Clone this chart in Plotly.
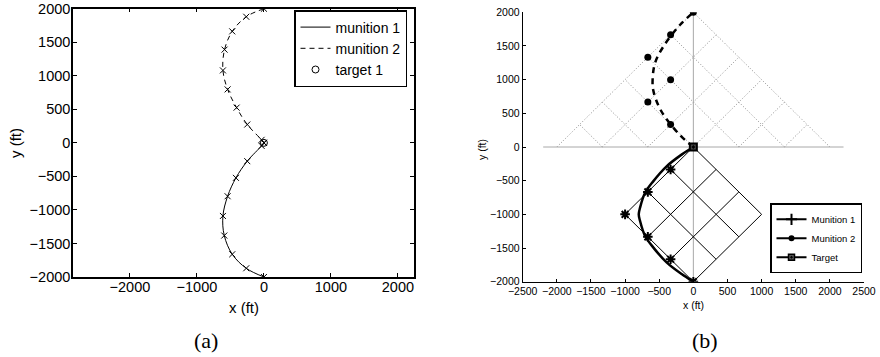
import plotly.graph_objects as go

# ---------------- panel (a) data ----------------
a_m1_x = [0, -264, -473, -592, -612, -542, -418, -249, -35, 0]
a_m1_y = [-2000, -1870, -1661, -1382, -1090, -796, -522, -273, -45, 0]
a_m2_x = [0, -264, -473, -588, -612, -542, -408, -249, -35, 0]
a_m2_y = [2000, 1880, 1662, 1390, 1080, 797, 525, 273, 45, 0]
a_target_x = [0]
a_target_y = [0]

# ---------------- panel (b) data ----------------
b_m1_path_x = [0, -172, -392, -588, -709, -782, -800, -782, -709, -588, -392, -172, 0]
b_m1_path_y = [0, -113, -287, -510, -683, -906, -1000, -1094, -1317, -1490, -1713, -1887, -2000]
b_m2_path_x = [0, -197, -417, -515, -588, -597, -563, -441, -197, 0]
b_m2_path_y = [0, 177, 449, 622, 845, 994, 1242, 1489, 1811, 2000]
b_m1_wp_x = [-333.3, -666.7, -1000, -666.7, -333.3, 0]
b_m1_wp_y = [-333.3, -666.7, -1000, -1333.3, -1666.7, -2000]
b_m2_wp_x = [-333.3, -666.7, -333.3, -666.7, -333.3, 0]
b_m2_wp_y = [333.3, 666.7, 1000, 1333.3, 1666.7, 2000]
b_target_x = [0]
b_target_y = [0]
upper_apex = 2000
upper_offsets = [2000, 1333.3, 666.7, 0, -666.7, -1333.3]
lower_offsets = [0, -666.7, -1333.3, -2000]
ref_h_x = [-2200, 2200]
ref_h_y = [0, 0]
ref_v_x = [0, 0]
ref_v_y = [-2000, 2000]

FONT = "Liberation Sans, Arial, Helvetica, sans-serif"
SERIF = "Liberation Serif, DejaVu Serif, serif"

fig = go.Figure()

# ---- panel (a) traces ----
fig.add_trace(go.Scatter(x=a_m1_x, y=a_m1_y, mode="lines", line=dict(color="black", width=1, shape="spline"),
                         name="munition 1", xaxis="x", yaxis="y", legend="legend"))
fig.add_trace(go.Scatter(x=a_m2_x, y=a_m2_y, mode="lines", line=dict(color="black", width=1, shape="spline", dash="5px,4px"),
                         name="munition 2", xaxis="x", yaxis="y", legend="legend"))
fig.add_trace(go.Scatter(x=a_target_x, y=a_target_y, mode="markers",
                         marker=dict(symbol="circle-open", size=7, color="black", line=dict(width=1)),
                         name="target 1", xaxis="x", yaxis="y", legend="legend"))
fig.add_trace(go.Scatter(x=a_m1_x + a_m2_x, y=a_m1_y + a_m2_y, mode="markers",
                         marker=dict(symbol="x-thin-open", size=6, color="black", line=dict(width=1, color="black")),
                         showlegend=False, xaxis="x", yaxis="y"))

# ---- panel (b) lattice ----
ux, uy = [], []
for c in upper_offsets:
    ux += [-c, (upper_apex - c) / 2, None]
    uy += [0, (upper_apex + c) / 2, None]
    ux += [c, -(upper_apex - c) / 2, None]
    uy += [0, (upper_apex + c) / 2, None]
fig.add_trace(go.Scatter(x=ux, y=uy, mode="lines", line=dict(color="#8c8c8c", width=1, dash="1px,2px"),
                         showlegend=False, xaxis="x2", yaxis="y2", hoverinfo="skip"))
fig.add_trace(go.Scatter(x=ref_h_x + [None] + ref_v_x, y=ref_h_y + [None] + ref_v_y, mode="lines",
                         line=dict(color="#a8a8a8", width=1), showlegend=False, xaxis="x2", yaxis="y2", hoverinfo="skip"))
lx, ly = [], []
span = abs(lower_offsets[-1])
for c in lower_offsets:
    lx += [c / 2, (c + span) / 2, None]
    ly += [c / 2, (c - span) / 2, None]
    lx += [-c / 2, (-span - c) / 2, None]
    ly += [c / 2, (c - span) / 2, None]
fig.add_trace(go.Scatter(x=lx, y=ly, mode="lines", line=dict(color="black", width=1),
                         showlegend=False, xaxis="x2", yaxis="y2", hoverinfo="skip"))

# ---- panel (b) trajectories ----
fig.add_trace(go.Scatter(x=b_m1_path_x, y=b_m1_path_y, mode="lines", line=dict(color="black", width=2.5, shape="spline"),
                         showlegend=False, xaxis="x2", yaxis="y2"))
fig.add_trace(go.Scatter(x=b_m2_path_x, y=b_m2_path_y, mode="lines",
                         line=dict(color="black", width=2.5, shape="spline", dash="6px,5px"),
                         showlegend=False, xaxis="x2", yaxis="y2"))
fig.add_trace(go.Scatter(x=b_m1_wp_x, y=b_m1_wp_y, mode="markers",
                         marker=dict(symbol="asterisk-open", size=8, color="black", line=dict(width=2, color="black")),
                         showlegend=False, xaxis="x2", yaxis="y2"))
fig.add_trace(go.Scatter(x=b_m2_wp_x, y=b_m2_wp_y, mode="markers",
                         marker=dict(symbol="circle", size=7, color="black"),
                         showlegend=False, xaxis="x2", yaxis="y2"))
fig.add_trace(go.Scatter(x=b_target_x, y=b_target_y, mode="markers",
                         marker=dict(symbol="square-dot", size=7, color="#444", line=dict(width=2, color="black")),
                         showlegend=False, xaxis="x2", yaxis="y2"))

# ---- panel (b) legend entries ----
fig.add_trace(go.Scatter(x=[None], y=[None], mode="lines+markers", name="Munition 1",
                         line=dict(color="black", width=2),
                         marker=dict(symbol="cross-thin-open", size=8, color="black", line=dict(width=2, color="black")),
                         xaxis="x2", yaxis="y2", legend="legend2"))
fig.add_trace(go.Scatter(x=[None], y=[None], mode="lines+markers", name="Munition 2",
                         line=dict(color="black", width=2), marker=dict(symbol="circle", size=6, color="black"),
                         xaxis="x2", yaxis="y2", legend="legend2"))
fig.add_trace(go.Scatter(x=[None], y=[None], mode="lines+markers", name="Target",
                         line=dict(color="black", width=2),
                         marker=dict(symbol="square-dot", size=6, color="#555", line=dict(width=1.5, color="black")),
                         xaxis="x2", yaxis="y2", legend="legend2"))

W, H = 880, 357


def px(x):
    return x / W


def py(y):
    return 1 - y / H


axis_a = dict(showline=True, linecolor="black", linewidth=1.5, mirror="ticks", ticks="inside", ticklen=4,
              tickcolor="black", showgrid=False, zeroline=False, automargin=False,
              tickfont=dict(family=FONT, size=14.5, color="black"))
axis_b = dict(showline=True, linecolor="black", linewidth=1, mirror=False, ticks="inside", ticklen=3,
              tickcolor="black", showgrid=False, zeroline=False, automargin=False,
              tickfont=dict(family=FONT, size=10.5, color="black"))


def ann(text, x, y, size, family=FONT, angle=0):
    return dict(text=text, x=px(x), y=py(y), xref="paper", yref="paper", showarrow=False,
                xanchor="center", yanchor="middle", textangle=angle, font=dict(size=size, family=family, color="black"))


fig.update_layout(
    width=W, height=H, autosize=False,
    margin=dict(l=0, r=0, t=0, b=0, pad=0, autoexpand=False),
    paper_bgcolor="white", plot_bgcolor="white",
    font=dict(family=FONT, color="black"),
    xaxis=dict(axis_a, domain=[px(73), px(414)], range=[-2850, 2240], tickvals=[-2000, -1000, 0, 1000, 2000],
               anchor="y", ticklabelstandoff=-4),
    yaxis=dict(axis_a, domain=[py(277), py(8.7)], range=[-2000, 2000], dtick=500, anchor="x", ticklabelstandoff=-2),
    xaxis2=dict(axis_b, domain=[px(522.7), px(864)], range=[-2500, 2500], dtick=500, anchor="y2",
                ticklabelstandoff=0),
    yaxis2=dict(axis_b, domain=[py(281.7), py(12.3)], range=[-2000, 2000], dtick=500, anchor="x2"),
    legend=dict(x=px(407), xanchor="right", y=py(10), yanchor="top", bordercolor="black", borderwidth=1.5,
                bgcolor="white", font=dict(family=FONT, size=14, color="black"), tracegroupgap=0),
    legend2=dict(x=px(862), xanchor="right", y=py(273.3), yanchor="bottom", bordercolor="black", borderwidth=1.5,
                 bgcolor="white", font=dict(family=FONT, size=9.5, color="black"), tracegroupgap=0),
    annotations=[
        ann("x (ft)", 243.5, 307, 15),
        ann("y (ft)", 15, 143, 15, angle=-90),
        ann("x (ft)", 693.4, 305, 10.5),
        ann("y (ft)", 482, 150, 10.5, angle=-90),
        ann("(a)", 205.5, 340, 22, SERIF),
        ann("(b)", 705, 340, 22, SERIF),
    ],
)

fig.write_html("out.html", config={"displayModeBar": False},
               post_script="document.body.style.margin='0';")
